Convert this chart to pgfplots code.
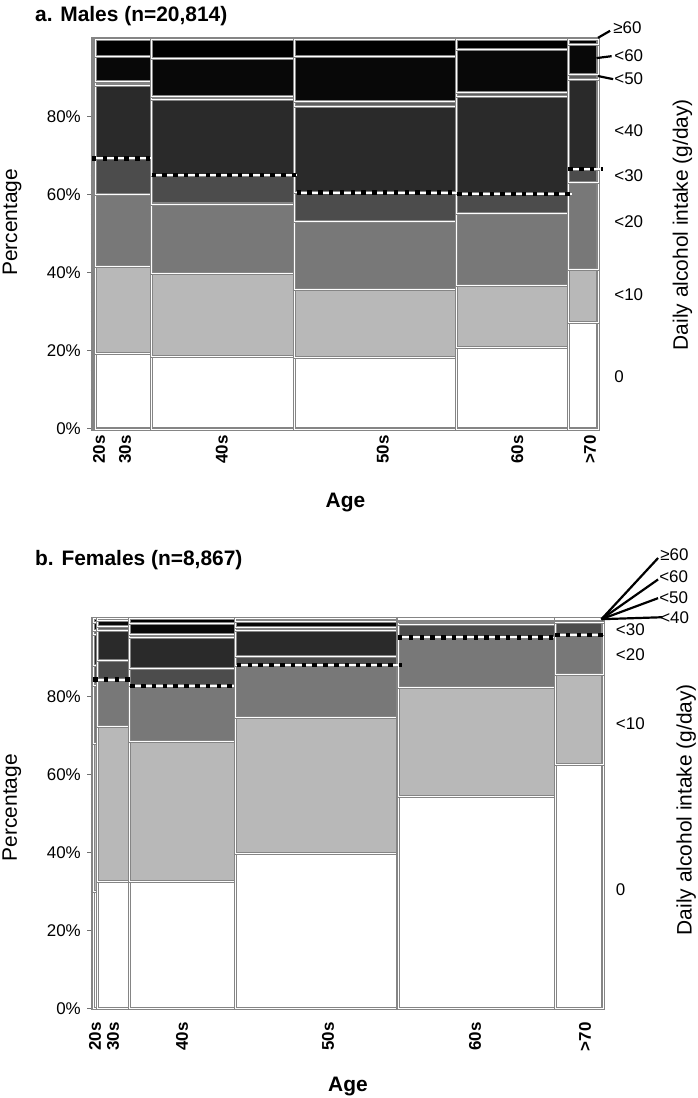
\documentclass[border=0pt]{standalone}
\usepackage{pgfplots}
\pgfplotsset{compat=1.18}
\usepackage{fontspec}
\setmainfont{Liberation Sans}
\definecolor{cA}{HTML}{FFFFFF}
\definecolor{cB}{HTML}{B8B8B8}
\definecolor{cC}{HTML}{787878}
\definecolor{cD}{HTML}{4C4C4C}
\definecolor{cE}{HTML}{2A2A2A}
\definecolor{cF}{HTML}{5E5E5E}
\definecolor{cG}{HTML}{080808}
\definecolor{cH}{HTML}{000000}
\definecolor{bord}{HTML}{858585}
\definecolor{axc}{HTML}{707070}
\newcommand{\tickfont}{\fontsize{17}{19}\selectfont}
\newcommand{\labfont}{\fontsize{21}{24}\selectfont}
\pgfplotsset{
 cell/.style={draw=bord, line width=1.1bp, double=white, double distance=0.9bp, mark=none},
 mosaic/.style={scale only axis, xmin=0, xmax=100, ymin=0, ymax=100, clip=false,
   axis x line*=bottom, axis y line*=left,
   axis line style={draw=axc, line width=1.3bp, -},
   ytick={0,20,40,60,80}, yticklabels={0\%,20\%,40\%,60\%,80\%},
   minor y tick num=3,
   tick align=outside, major tick length=6bp, minor tick length=2.5bp,
   tick style={draw=axc, line width=1bp},
   xtick style={draw=none},
   yticklabel style={font=\tickfont, inner sep=0pt, xshift=-6bp},
   xticklabel style={font=\bfseries\tickfont, rotate=90, anchor=east, inner sep=0pt},
   every axis y label/.style={rotate=90, font=\labfont, anchor=center},
   every axis x label/.style={font=\bfseries\labfont, anchor=north},
   every axis title/.style={font=\bfseries\fontsize{21}{24}\selectfont, anchor=base west, inner sep=0pt},
 },
}
% one age column: left, right, cumulative tops of 0,<10,<20,<30,<40,<50,<60 (>=60 up to 100)
\newcommand{\agecol}[9]{%
 \addplot[cell, fill=cA] coordinates {(#1,0) (#2,0) (#2,#3) (#1,#3)} --cycle;
 \addplot[cell, fill=cB] coordinates {(#1,#3) (#2,#3) (#2,#4) (#1,#4)} --cycle;
 \addplot[cell, fill=cC] coordinates {(#1,#4) (#2,#4) (#2,#5) (#1,#5)} --cycle;
 \addplot[cell, fill=cD] coordinates {(#1,#5) (#2,#5) (#2,#6) (#1,#6)} --cycle;
 \addplot[cell, fill=cE] coordinates {(#1,#6) (#2,#6) (#2,#7) (#1,#7)} --cycle;
 \addplot[cell, fill=cF] coordinates {(#1,#7) (#2,#7) (#2,#8) (#1,#8)} --cycle;
 \addplot[cell, fill=cG] coordinates {(#1,#8) (#2,#8) (#2,#9) (#1,#9)} --cycle;
 \addplot[cell, fill=cH] coordinates {(#1,#9) (#2,#9) (#2,100) (#1,100)} --cycle;
}
\newcommand{\cutline}[3]{%
 \addplot[white, line width=2bp, mark=none] coordinates {(#1,#3) (#2,#3)};
 \addplot[black, line width=4.5bp, dash pattern=on 4.5bp off 6.3bp, mark=none] coordinates {(#1,#3) (#2,#3)};
}
\begin{document}
\begin{tikzpicture}
\useasboundingbox (0,0) rectangle (698bp,1098bp);
% ---------------- Males
\begin{axis}[mosaic, at={(93bp,669bp)}, anchor=south west, width=505bp, height=390bp,
  xtick={1.19,6.34,25.5,57.4,84.0,98.4}, xticklabels={20s,30s,40s,50s,60s,>70},
  xlabel={Age}, xlabel style={at={(rel axis cs:0.5,0)}, yshift=-61bp},
  ylabel={Percentage}, ylabel style={at={(rel axis cs:-0.160,0.53)}},
  title={a. Males (n=20,814)}, title style={at={(rel axis cs:-0.1149,1.0444)}}]
\agecol{0}{0.4}{20}{42}{60}{69.4}{88}{89}{95.6}
\agecol{0.4}{11.5}{19.4}{41.6}{60.2}{69.4}{88.2}{89.1}{95.6}
\agecol{11.5}{39.9}{18.7}{39.9}{57.7}{65.1}{84.5}{85.2}{95.0}
\agecol{39.9}{71.9}{18.4}{35.8}{53.3}{60.6}{82.6}{83.9}{95.6}
\agecol{71.9}{94.1}{20.9}{36.9}{55.3}{60.3}{85.2}{86.2}{97.2}
\agecol{94.1}{100}{27.3}{40.9}{63.2}{66.6}{89.7}{90.8}{98.7}
\cutline{-0.2}{11.6}{69.4}
\cutline{11.6}{40.3}{65.1}
\cutline{40.3}{72.0}{60.6}
\cutline{72.1}{94.8}{60.3}
\cutline{94.1}{101}{66.6}
\addplot[black, line width=2.2bp, mark=none] coordinates {(100,100.3) (102.4,102.1)};
\addplot[black, line width=2.2bp, mark=none] coordinates {(99.7,95.1) (102.7,95.6)};
\addplot[black, line width=2.2bp, mark=none] coordinates {(100,90.5) (103,89.7)};
\node[anchor=west, inner sep=0pt, font=\tickfont] at (axis cs:103.0,102.8) {≥60};
\node[anchor=west, inner sep=0pt, font=\tickfont] at (axis cs:103.2,95.6) {<60};
\node[anchor=west, inner sep=0pt, font=\tickfont] at (axis cs:103.2,89.7) {<50};
\node[anchor=west, inner sep=0pt, font=\tickfont] at (axis cs:103.2,76.4) {<40};
\node[anchor=west, inner sep=0pt, font=\tickfont] at (axis cs:103.2,64.9) {<30};
\node[anchor=west, inner sep=0pt, font=\tickfont] at (axis cs:103.2,53.1) {<20};
\node[anchor=west, inner sep=0pt, font=\tickfont] at (axis cs:103.2,34.4) {<10};
\node[anchor=west, inner sep=0pt, font=\tickfont] at (axis cs:103.2,13.3) {0};
\node[rotate=90, font=\labfont] at (rel axis cs:1.167,0.524) {Daily alcohol intake (g/day)};
\end{axis}
% ---------------- Females
\begin{axis}[mosaic, at={(93bp,89.7bp)}, anchor=south west, width=510bp, height=389.5bp,
  xtick={0.39,3.92,17.45,46.1,74.9,96.5}, xticklabels={20s,30s,40s,50s,60s,>70},
  xticklabel style={xshift=-8bp},
  xlabel={Age}, xlabel style={at={(rel axis cs:0.5,0)}, yshift=-65bp},
  ylabel={Percentage}, ylabel style={at={(rel axis cs:-0.159,0.515)}},
  title={b. Females (n=8,867)}, title style={at={(rel axis cs:-0.1137,1.138)}}]
\agecol{0}{0.8}{30}{68}{83}{88}{96}{97}{99}
\agecol{0.8}{7.1}{32.5}{72.3}{84.4}{89.2}{97.1}{98.0}{99.5}
\agecol{7.1}{28.0}{32.5}{68.4}{82.8}{87.3}{95.2}{96.0}{98.8}
\agecol{28.0}{59.8}{39.8}{74.7}{88.1}{90.3}{96.9}{97.8}{99.3}
\agecol{59.8}{90.6}{54.3}{82.3}{95.2}{98.6}{99.4}{99.6}{99.8}
\agecol{90.6}{100}{62.7}{85.8}{95.9}{99.0}{99.5}{99.7}{99.9}
\cutline{0}{7.2}{84.4}
\cutline{7.3}{27.6}{82.8}
\cutline{28.2}{60.5}{88.1}
\cutline{59.8}{90.2}{95.2}
\cutline{90.6}{100}{95.8}
\addplot[black, line width=2.2bp, mark=none] coordinates {(99.7,99.9) (110.8,115.6)};
\addplot[black, line width=2.2bp, mark=none] coordinates {(99.7,99.9) (110.8,110.1)};
\addplot[black, line width=2.2bp, mark=none] coordinates {(99.7,99.9) (110.8,105.3)};
\addplot[black, line width=2.2bp, mark=none] coordinates {(99.7,99.9) (111.6,100.4)};
\node[anchor=west, inner sep=0pt, font=\tickfont] at (axis cs:111.2,116.4) {≥60};
\node[anchor=west, inner sep=0pt, font=\tickfont] at (axis cs:111.0,110.8) {<60};
\node[anchor=west, inner sep=0pt, font=\tickfont] at (axis cs:111.0,105.5) {<50};
\node[anchor=west, inner sep=0pt, font=\tickfont] at (axis cs:111.2,100.4) {<40};
\node[anchor=west, inner sep=0pt, font=\tickfont] at (axis cs:102.5,97.1) {<30};
\node[anchor=west, inner sep=0pt, font=\tickfont] at (axis cs:102.5,90.7) {<20};
\node[anchor=west, inner sep=0pt, font=\tickfont] at (axis cs:102.5,73.2) {<10};
\node[anchor=west, inner sep=0pt, font=\tickfont] at (axis cs:102.5,30.5) {0};
\node[rotate=90, font=\labfont] at (rel axis cs:1.163,0.510) {Daily alcohol intake (g/day)};
\end{axis}
\end{tikzpicture}
\end{document}
